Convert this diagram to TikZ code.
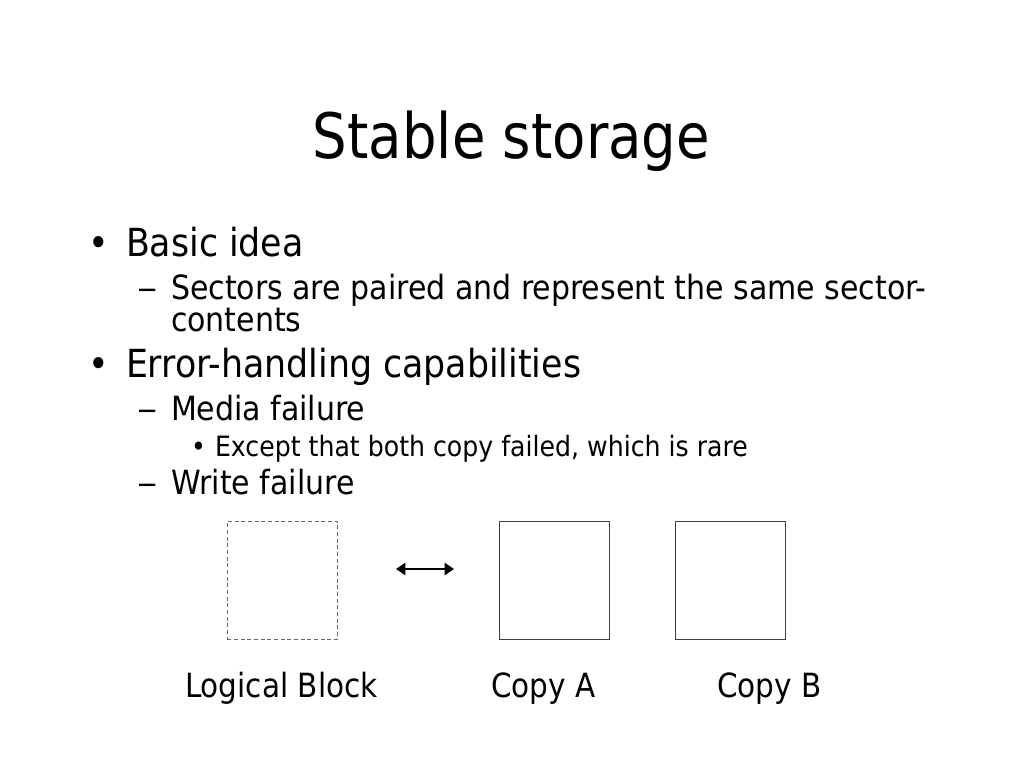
\documentclass[tikz,border=0pt]{standalone}
\usepackage{graphicx}
\usepackage{fontspec}
\setmainfont{DejaVu Sans}[FakeStretch=0.90]
\newfontfamily\titlefont{DejaVu Sans}[FakeStretch=0.87]
\newfontfamily\lblfont{DejaVu Sans}[FakeStretch=0.885]
\usetikzlibrary{arrows.meta}
\newcommand{\mydash}{\scalebox{1.35}[1]{–}}
\begin{document}
\begin{tikzpicture}[x=0.75pt,y=-0.75pt,
  txt/.style={anchor=base west,inner sep=0pt,outer sep=0pt},
  lone/.style={txt,font=\fontsize{29}{34}\selectfont},
  ltwo/.style={txt,font=\fontsize{25}{30}\selectfont},
  lthree/.style={txt,font=\fontsize{21}{25}\selectfont},
  lbl/.style={txt,font=\lblfont\fontsize{25}{30}\selectfont},
  blk/.style={draw=black!75,line width=0.8pt,minimum width=82.5pt,minimum height=88.5pt,inner sep=0pt,anchor=north west},
  dblk/.style={blk,draw=black!60,dashed,line width=0.7pt,dash pattern=on 3pt off 2pt}]
\useasboundingbox[fill=white] (0,0) rectangle (1024,768);
\node[anchor=base,inner sep=0pt,font=\titlefont\fontsize{47}{56}\selectfont] (title) at (511.5,158) {Stable storage};
% level 1
\node[lone] (b1) at (88,256.7) {•};
\node[lone] (t1) at (126,256.7) {Basic idea};
\node[ltwo] (d1) at (137,299.5) {\mydash};
\node[ltwo] (t2) at (171,299.5) {Sectors are paired and represent the same sector-};
\node[ltwo] (t3) at (171,331) {contents};
\node[lone] (b2) at (88,377) {•};
\node[lone] (t4) at (126,377) {Error-handling capabilities};
\node[ltwo] (d2) at (137,420) {\mydash};
\node[ltwo] (t5) at (171,420) {Media failure};
\node[lthree] (b3) at (191,456.5) {•};
\node[lthree] (t6) at (215,456.5) {Except that both copy failed, which is rare};
\node[ltwo] (d3) at (137,494) {\mydash};
\node[ltwo] (t7) at (171,494) {Write failure};
% blocks
\node[dblk] (lb) at (227,521) {};
\node[blk] (ca) at (499,521) {};
\node[blk] (cb) at (675,521) {};
\coordinate (al) at (396,569);
\coordinate (ar) at (454,569);
\draw[line width=2.1pt,{Triangle[length=7pt,width=9pt]}-{Triangle[length=7pt,width=9pt]}] (al) -- (ar);
% labels
\node[lbl] (llb) at (185,697) {Logical Block};
\node[lbl] (lca) at (491,697) {Copy A};
\node[lbl] (lcb) at (717,697) {Copy B};
\end{tikzpicture}
\end{document}
